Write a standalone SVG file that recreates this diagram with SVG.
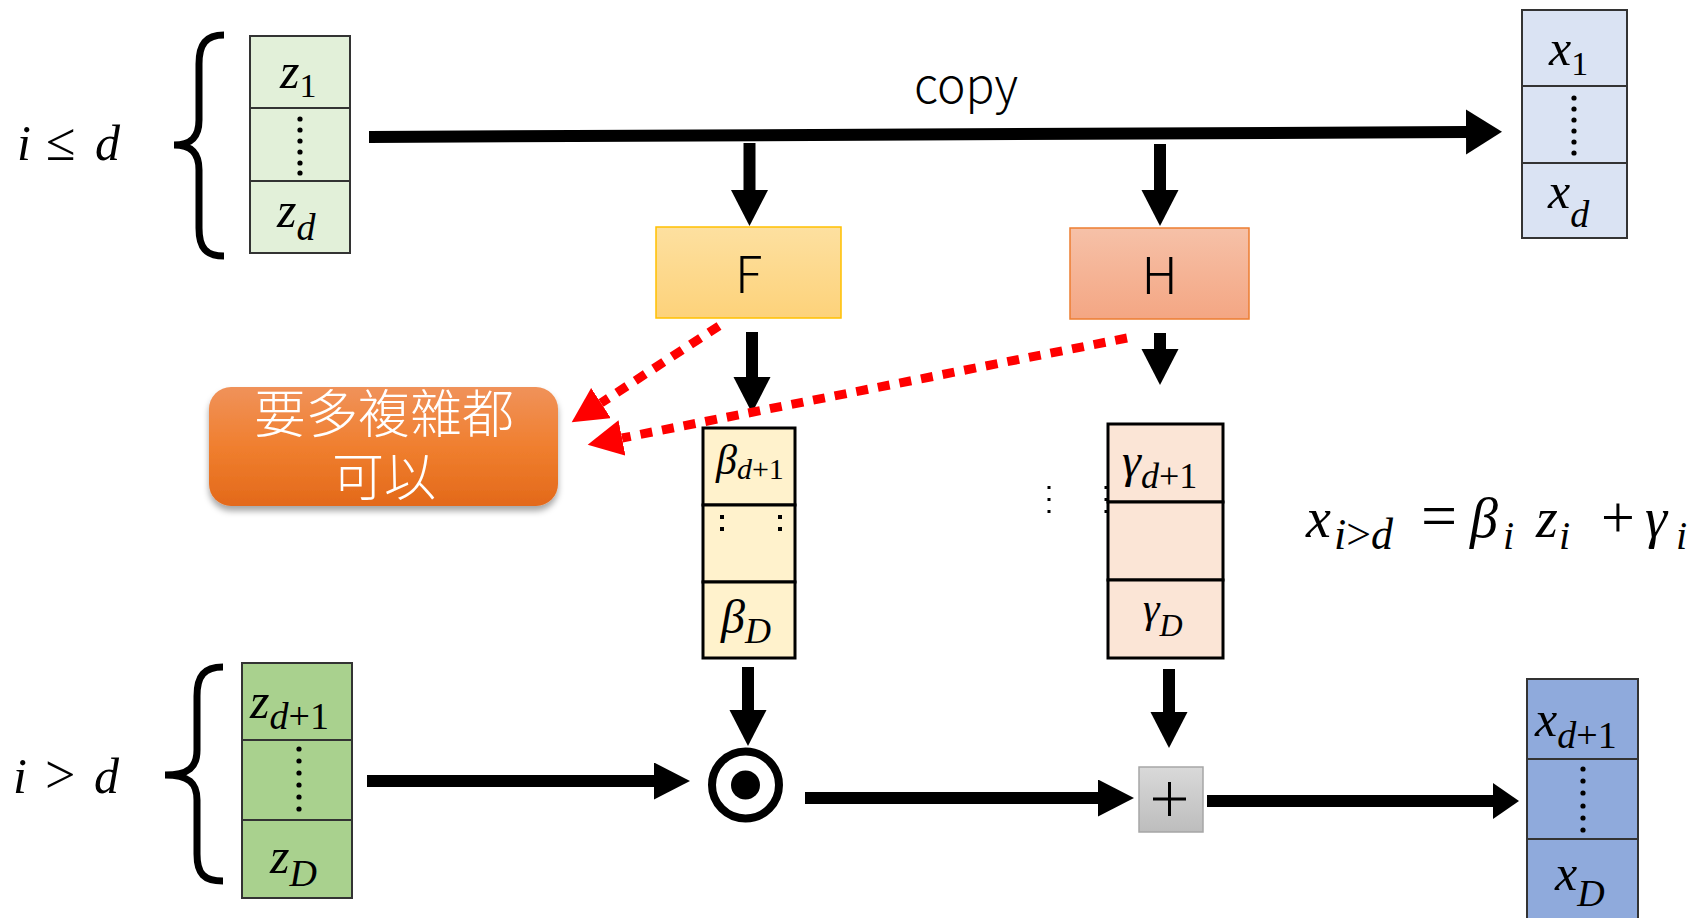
<svg xmlns="http://www.w3.org/2000/svg" width="1700" height="918" viewBox="0 0 1700 918">
  <style>
    .m { font-family: "Liberation Serif", "DejaVu Serif", serif; font-style: italic; fill: #000; }
    .up { font-style: normal; }
    .sans { font-family: "Noto Sans CJK TC", "Noto Sans", sans-serif; font-weight: 300; fill: #000; }
    .cell { stroke: #333; stroke-width: 2; }
    .vec { stroke: #000; stroke-width: 3; }
    .brace { fill: none; stroke: #000; stroke-width: 7; }
    .arrow { fill: none; stroke: #000; stroke-width: 12; }
    .dash { fill: none; stroke: #ff0000; stroke-width: 9; stroke-dasharray: 12 10; }
    .dot { fill: #000; }
  </style>
  <defs>
    <marker id="head" markerUnits="userSpaceOnUse" markerWidth="38" markerHeight="38" refX="0" refY="18.5" orient="auto">
      <path d="M0,0 L36,18.5 L0,37 z" fill="#000"/>
    </marker>
    <marker id="headWide" markerUnits="userSpaceOnUse" markerWidth="38" markerHeight="46" refX="0" refY="22.5" orient="auto">
      <path d="M0,0 L36,22.5 L0,45 z" fill="#000"/>
    </marker>
    <marker id="headShort" markerUnits="userSpaceOnUse" markerWidth="28" markerHeight="38" refX="0" refY="18" orient="auto">
      <path d="M0,0 L26,18 L0,36 z" fill="#000"/>
    </marker>
    <marker id="redHead" markerUnits="userSpaceOnUse" markerWidth="38" markerHeight="38" refX="0" refY="18" orient="auto">
      <path d="M0,0 L35,18 L0,36 z" fill="#ff0000"/>
    </marker>
    <linearGradient id="gF" x1="0" y1="0" x2="0" y2="1">
      <stop offset="0" stop-color="#fde0a0"/>
      <stop offset="1" stop-color="#fdd27a"/>
    </linearGradient>
    <linearGradient id="gH" x1="0" y1="0" x2="0" y2="1">
      <stop offset="0" stop-color="#f6c1a8"/>
      <stop offset="1" stop-color="#f4a683"/>
    </linearGradient>
    <linearGradient id="gNote" x1="0" y1="0" x2="0" y2="1">
      <stop offset="0" stop-color="#f0925a"/>
      <stop offset="0.5" stop-color="#f07f2f"/>
      <stop offset="1" stop-color="#e3691a"/>
    </linearGradient>
    <linearGradient id="gPlus" x1="0" y1="0" x2="0" y2="1">
      <stop offset="0" stop-color="#d9d9d9"/>
      <stop offset="1" stop-color="#bdbdbd"/>
    </linearGradient>
    <filter id="shadow" x="-10%" y="-10%" width="120%" height="140%">
      <feDropShadow dx="0" dy="5" stdDeviation="3" flood-color="#000" flood-opacity="0.35"/>
    </filter>
  </defs>

  <rect width="1700" height="918" fill="#fff"/>

  <!-- connectors -->
  <g id="connectors">
    <path class="arrow" d="M369,137 L1466,132" marker-end="url(#headWide)"/>
    <path class="arrow" d="M749.5,143 V190" marker-end="url(#head)"/>
    <path class="arrow" d="M1160,144 V190" marker-end="url(#head)"/>
    <path class="arrow" d="M752,332 V377" marker-end="url(#head)"/>
    <path class="arrow" d="M1160,333 V349" marker-end="url(#head)"/>
    <path class="arrow" d="M748,667 V710" marker-end="url(#head)"/>
    <path class="arrow" d="M1169,669 V712" marker-end="url(#head)"/>
    <path class="arrow" d="M367,781 H654" marker-end="url(#head)"/>
    <path class="arrow" d="M805,798 H1098" marker-end="url(#head)"/>
    <path class="arrow" d="M1207,801 H1493" marker-end="url(#headShort)"/>
    <path class="dash" d="M719,326 L601,403" marker-end="url(#redHead)"/>
    <path class="dash" d="M1127,338 L622,438" marker-end="url(#redHead)"/>
    <text class="sans" x="966" y="103" font-size="48" text-anchor="middle">copy</text>
  </g>

  <!-- condition labels and braces -->
  <g id="cond-top">
    <text class="m" x="17" y="160" font-size="50">i<tspan class="up" x="46" font-size="54">≤</tspan><tspan x="95">d</tspan></text>
    <path class="brace" d="M224,35 C206,35 199,44 199,64 L199,120 C199,137 191,145 174,145 C191,145 199,153 199,170 L199,228 C199,248 206,256 224,256"/>
  </g>
  <g id="cond-bottom">
    <text class="m" x="13" y="793" font-size="50">i<tspan class="up" x="45" font-size="54">&gt;</tspan><tspan x="94">d</tspan></text>
    <path class="brace" d="M223,667 C204,667 197,676 197,696 L197,750 C197,767 189,775 165,775 C189,775 197,783 197,800 L197,854 C197,874 204,881 223,881"/>
  </g>

  <!-- z_1..z_d -->
  <g id="z-top">
    <rect class="cell" x="250" y="36" width="100" height="72" fill="#e2f0d9"/>
    <rect class="cell" x="250" y="108" width="100" height="73" fill="#e2f0d9"/>
    <rect class="cell" x="250" y="181" width="100" height="72" fill="#e2f0d9"/>
    <text class="m" x="280" y="88" font-size="50">z<tspan class="up" dy="9" font-size="34">1</tspan></text>
    <g class="dot">
      <circle cx="300" cy="119" r="2.6"/><circle cx="300" cy="130" r="2.6"/><circle cx="300" cy="141" r="2.6"/>
      <circle cx="300" cy="152" r="2.6"/><circle cx="300" cy="163" r="2.6"/><circle cx="300" cy="173" r="2.6"/>
    </g>
    <text class="m" x="277" y="227" font-size="50">z<tspan dy="13" font-size="38">d</tspan></text>
  </g>

  <!-- x_1..x_d -->
  <g id="x-top">
    <rect class="cell" x="1522" y="10" width="105" height="76" fill="#dae3f3"/>
    <rect class="cell" x="1522" y="86" width="105" height="77" fill="#dae3f3"/>
    <rect class="cell" x="1522" y="163" width="105" height="75" fill="#dae3f3"/>
    <text class="m" x="1549" y="65" font-size="50">x<tspan class="up" dy="10" font-size="34">1</tspan></text>
    <g class="dot">
      <circle cx="1574" cy="98" r="2.6"/><circle cx="1574" cy="109" r="2.6"/><circle cx="1574" cy="120" r="2.6"/>
      <circle cx="1574" cy="131" r="2.6"/><circle cx="1574" cy="142" r="2.6"/><circle cx="1574" cy="153" r="2.6"/>
    </g>
    <text class="m" x="1548" y="208" font-size="50">x<tspan dy="19" font-size="38">d</tspan></text>
  </g>

  <!-- F network -->
  <g id="F">
    <rect x="656" y="227" width="185" height="91" fill="url(#gF)" stroke="#ffc000" stroke-width="1.5"/>
    <text class="sans" x="748.5" y="293" font-size="51" text-anchor="middle">F</text>
  </g>

  <!-- H network -->
  <g id="H">
    <rect x="1070" y="228" width="179" height="91" fill="url(#gH)" stroke="#ed7d31" stroke-width="1.5"/>
    <text class="sans" x="1159.5" y="294" font-size="51" text-anchor="middle">H</text>
  </g>

  <!-- note -->
  <g id="note">
    <rect x="209" y="387" width="349" height="119" rx="22" fill="url(#gNote)" filter="url(#shadow)"/>
    <text font-size="52" text-anchor="middle" fill="#fff" font-family="Noto Sans CJK TC, Noto Sans CJK SC, sans-serif" font-weight="300"><tspan x="384" y="433">要多複雜都</tspan><tspan x="384" y="496">可以</tspan></text>
  </g>

  <!-- beta vector -->
  <g id="beta">
    <rect class="vec" x="703" y="428" width="92" height="77" fill="#fff2cc"/>
    <rect class="vec" x="703" y="505" width="92" height="77" fill="#fff2cc"/>
    <rect class="vec" x="703" y="582" width="92" height="76" fill="#fff2cc"/>
    <text class="m" x="716" y="474" font-size="42">β<tspan dy="5" font-size="30">d</tspan><tspan class="up" font-size="30">+1</tspan></text>
    <g class="dot">
      <rect x="720" y="515" width="4" height="4"/><rect x="720" y="527" width="4" height="4"/>
      <rect x="778" y="515" width="4" height="4"/><rect x="778" y="527" width="4" height="4"/>
    </g>
    <text class="m" x="721" y="633" font-size="48">β<tspan dy="10" font-size="36">D</tspan></text>
  </g>

  <!-- gamma vector -->
  <g id="gamma">
    <g class="dot">
      <rect x="1047.5" y="486" width="3" height="3"/><rect x="1047.5" y="498" width="3" height="3"/><rect x="1047.5" y="510" width="3" height="3"/>
      <rect x="1104.5" y="486" width="3" height="3"/><rect x="1104.5" y="498" width="3" height="3"/><rect x="1104.5" y="510" width="3" height="3"/>
    </g>
    <rect class="vec" x="1108" y="424" width="115" height="78" fill="#fbe5d6"/>
    <rect class="vec" x="1108" y="502" width="115" height="78" fill="#fbe5d6"/>
    <rect class="vec" x="1108" y="580" width="115" height="78" fill="#fbe5d6"/>
    <text class="m" x="1122" y="477" font-size="48">γ<tspan dy="11" font-size="36">d</tspan><tspan class="up" font-size="36">+1</tspan></text>
    <text class="m" x="1143" y="622" font-size="42">γ<tspan dy="14" font-size="32">D</tspan></text>
  </g>

  <!-- formula -->
  <g id="formula">
    <text class="m" font-size="56" y="537"><tspan x="1306">x</tspan><tspan x="1334" dy="12" font-size="44">i</tspan><tspan class="up" font-size="44">&gt;</tspan><tspan font-size="44">d</tspan><tspan class="up" x="1421" dy="-12" font-size="64">=</tspan><tspan x="1470">β</tspan><tspan x="1503" dy="12" font-size="40">i</tspan><tspan x="1536" dy="-12">z</tspan><tspan x="1559" dy="12" font-size="40">i</tspan><tspan class="up" x="1601" dy="-12" font-size="60">+</tspan><tspan x="1645">γ</tspan><tspan x="1676" dy="12" font-size="40">i</tspan></text>
  </g>

  <!-- z_{d+1}..z_D -->
  <g id="z-bottom">
    <rect class="cell" x="242" y="663" width="110" height="77" fill="#a9d18e"/>
    <rect class="cell" x="242" y="740" width="110" height="80" fill="#a9d18e"/>
    <rect class="cell" x="242" y="820" width="110" height="78" fill="#a9d18e"/>
    <text class="m" x="250" y="718" font-size="50">z<tspan dy="11" font-size="38">d</tspan><tspan class="up" font-size="38">+1</tspan></text>
    <g class="dot">
      <circle cx="299" cy="749" r="2.6"/><circle cx="299" cy="761" r="2.6"/><circle cx="299" cy="773" r="2.6"/>
      <circle cx="299" cy="785" r="2.6"/><circle cx="299" cy="797" r="2.6"/><circle cx="299" cy="809" r="2.6"/>
    </g>
    <text class="m" x="270" y="873" font-size="50">z<tspan dy="13" font-size="38">D</tspan></text>
  </g>

  <!-- element-wise product -->
  <g id="odot">
    <circle cx="745.5" cy="785" r="33.5" fill="#fff" stroke="#000" stroke-width="8"/>
    <circle cx="745.5" cy="785" r="14.5" fill="#000"/>
  </g>

  <!-- sum -->
  <g id="plus">
    <rect x="1139" y="767" width="64" height="65" fill="url(#gPlus)" stroke="#a6a6a6" stroke-width="1.5"/>
    <path d="M1153,799 H1186 M1169.5,782 V816" stroke="#000" stroke-width="3"/>
  </g>

  <!-- x_{d+1}..x_D -->
  <g id="x-bottom">
    <rect class="cell" x="1527" y="679" width="111" height="80" fill="#8faadc"/>
    <rect class="cell" x="1527" y="759" width="111" height="80" fill="#8faadc"/>
    <rect class="cell" x="1527" y="839" width="111" height="85" fill="#8faadc"/>
    <text class="m" x="1535" y="736" font-size="50">x<tspan dy="12" font-size="38">d</tspan><tspan class="up" font-size="38">+1</tspan></text>
    <g class="dot">
      <circle cx="1583" cy="769" r="2.6"/><circle cx="1583" cy="781" r="2.6"/><circle cx="1583" cy="793" r="2.6"/>
      <circle cx="1583" cy="806" r="2.6"/><circle cx="1583" cy="818" r="2.6"/><circle cx="1583" cy="830" r="2.6"/>
    </g>
    <text class="m" x="1555" y="890" font-size="50">x<tspan dy="16" font-size="38">D</tspan></text>
  </g>
</svg>
